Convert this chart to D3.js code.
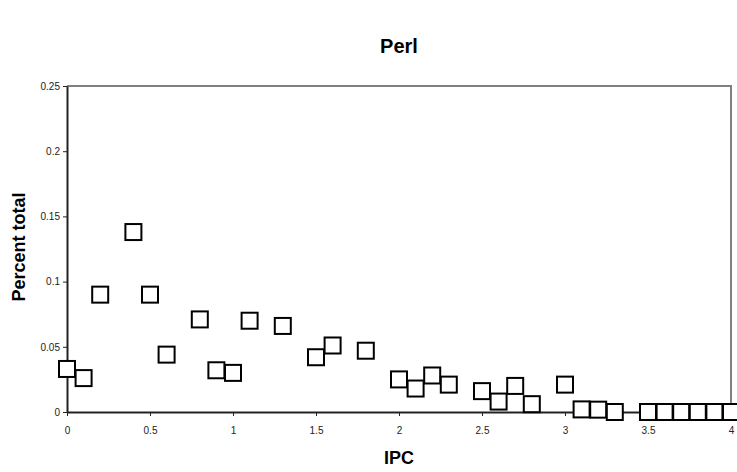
<!DOCTYPE html>
<html>
<head>
<meta charset="utf-8">
<title>Perl</title>
<script src="https://d3js.org/d3.v7.min.js"></script>
<style>
  body { margin: 0; background: #fff; }
  text { font-family: "Liberation Sans", Arial, sans-serif; }
</style>
</head>
<body>
<div id="chart"></div>
<script>

// data
var ipc     = [0, 0.1, 0.2, 0.4, 0.5, 0.6, 0.8, 0.9, 1.0, 1.1, 1.3, 1.5, 1.6, 1.8,
               2.0, 2.1, 2.2, 2.3, 2.5, 2.6, 2.7, 2.8, 3.0, 3.1, 3.2, 3.3,
               3.5, 3.6, 3.7, 3.8, 3.9, 4.0];
var percent = [0.033, 0.026, 0.09, 0.138, 0.09, 0.044, 0.071, 0.032, 0.030, 0.070, 0.066, 0.042, 0.051, 0.047,
               0.025, 0.018, 0.028, 0.021, 0.016, 0.008, 0.020, 0.006, 0.021, 0.002, 0.0018, 0,
               0, 0, 0, 0, 0, 0];
var xTicks = [0, 0.5, 1, 1.5, 2, 2.5, 3, 3.5, 4];
var yTicks = [0, 0.05, 0.1, 0.15, 0.2, 0.25];

var W = 737, H = 472;
var margin = {top: 86, right: 6, bottom: 60, left: 67},
    width = W - margin.left - margin.right,
    height = H - margin.top - margin.bottom;

var svg = d3.select("#chart").append("svg")
    .attr("width", W)
    .attr("height", H);

var g = svg.append("g")
    .attr("transform", "translate(" + margin.left + "," + margin.top + ")");

var x = d3.scaleLinear().domain([0, 4]).range([0, width]);
var y = d3.scaleLinear().domain([0, 0.25]).range([height, 0]);

// plot frame: grey top/right
g.append("path")
  .attr("d", "M0,0H" + width + "V" + height)
  .attr("fill", "none")
  .attr("stroke", "#808080")
  .attr("stroke-width", 2);

// axes
var xAxis = g.append("g")
  .attr("transform", "translate(0," + height + ")")
  .call(d3.axisBottom(x).tickValues(xTicks).tickSize(4).tickSizeOuter(0).tickFormat(d3.format("")));
var yAxis = g.append("g")
  .call(d3.axisLeft(y).tickValues(yTicks).tickSize(4).tickSizeOuter(0).tickFormat(d3.format("")));

[xAxis, yAxis].forEach(function(a) {
  a.select(".domain").attr("stroke", "#222").attr("stroke-width", 2);
  a.selectAll(".tick line").attr("stroke", "#222");
  a.selectAll(".tick text")
    .attr("font-family", "Liberation Sans, Arial, sans-serif")
    .attr("font-size", 10)
    .attr("fill", "#222");
});
xAxis.selectAll(".tick text").attr("dy", "1.5em");
yAxis.selectAll(".tick text").attr("x", -7);

// markers
var pts = ipc.map(function(v, i) { return {x: v, y: percent[i]}; });
var s = 16;
g.selectAll("rect.pt")
  .data(pts)
  .enter().append("rect")
    .attr("class", "pt")
    .attr("x", function(d) { return x(d.x) - s / 2; })
    .attr("y", function(d) { return y(d.y) - s / 2; })
    .attr("width", s)
    .attr("height", s)
    .attr("fill", "#fff")
    .attr("stroke", "#000")
    .attr("stroke-width", 2);

// titles
svg.append("text")
  .attr("x", margin.left + width / 2)
  .attr("y", 53)
  .attr("text-anchor", "middle")
  .attr("font-size", 20)
  .attr("font-weight", "bold")
  .text("Perl");

svg.append("text")
  .attr("x", margin.left + width / 2)
  .attr("y", 464)
  .attr("text-anchor", "middle")
  .attr("font-size", 18)
  .attr("font-weight", "bold")
  .text("IPC");

svg.append("text")
  .attr("transform", "translate(25," + 247 + ") rotate(-90)")
  .attr("text-anchor", "middle")
  .attr("font-size", 18)
  .attr("font-weight", "bold")
  .text("Percent total");

</script>
</body>
</html>
